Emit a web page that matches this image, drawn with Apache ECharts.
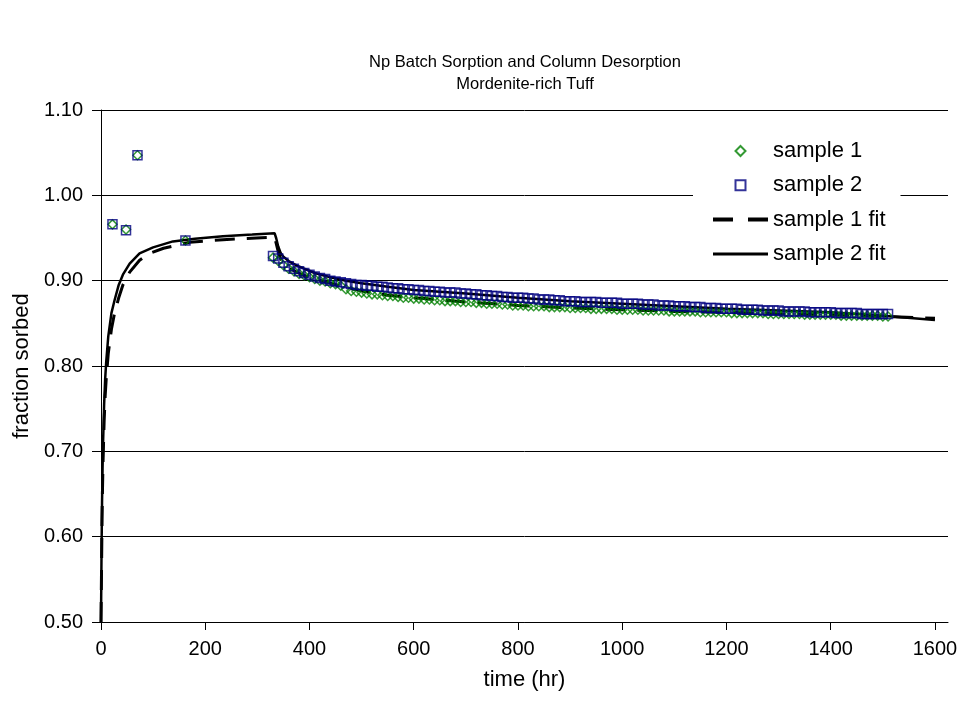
<!DOCTYPE html>
<html>
<head>
<meta charset="utf-8">
<script src="https://cdn.jsdelivr.net/npm/echarts@6/dist/echarts.min.js"></script>
<style>html,body{margin:0;padding:0;background:#fff;}#c{width:977px;height:704px;}</style>
</head>
<body>
<div id="c"></div>
<script>
var titleLines = ['Np Batch Sorption and Column Desorption', 'Mordenite-rich Tuff'];
var xName = 'time (hr)';
var yName = 'fraction sorbed';
var seriesNames = ['sample 1', 'sample 2', 'sample 1 fit', 'sample 2 fit'];
var xTicks = [0, 200, 400, 600, 800, 1000, 1200, 1400, 1600];

var batchTime = [22, 48, 70, 162];
var s1Batch = [0.966, 0.960, 1.047, 0.947];
var s2Batch = [0.966, 0.959, 1.047, 0.947];

var colTime = [330,340,350,360,370,380,390,400,410,420,430,440,450,460,470,480,490,500,510,520,530,540,550,560,570,580,590,600,610,620,630,640,650,660,670,680,690,700,710,720,730,740,750,760,770,780,790,800,810,820,830,840,850,860,870,880,890,900,910,920,930,940,950,960,970,980,990,1000,1010,1020,1030,1040,1050,1060,1070,1080,1090,1100,1110,1120,1130,1140,1150,1160,1170,1180,1190,1200,1210,1220,1230,1240,1250,1260,1270,1280,1290,1300,1310,1320,1330,1340,1350,1360,1370,1380,1390,1400,1410,1420,1430,1440,1450,1460,1470,1480,1490,1500,1510];

var s1Col = [0.927,0.923,0.918,0.914,0.911,0.908,0.906,0.904,0.902,0.900,0.899,0.897,0.896,0.894,0.890,0.888,0.887,0.886,0.885,0.884,0.884,0.883,0.882,0.882,0.881,0.880,0.880,0.879,0.879,0.878,0.878,0.877,0.877,0.876,0.876,0.876,0.875,0.875,0.875,0.874,0.874,0.873,0.873,0.873,0.872,0.872,0.871,0.871,0.871,0.870,0.870,0.870,0.870,0.869,0.869,0.869,0.869,0.868,0.868,0.868,0.868,0.867,0.867,0.867,0.867,0.867,0.866,0.866,0.866,0.866,0.866,0.865,0.865,0.865,0.865,0.865,0.864,0.864,0.864,0.864,0.864,0.864,0.863,0.863,0.863,0.863,0.863,0.863,0.862,0.862,0.862,0.862,0.862,0.862,0.862,0.861,0.861,0.861,0.861,0.861,0.861,0.861,0.860,0.860,0.860,0.860,0.860,0.860,0.860,0.859,0.859,0.859,0.859,0.859,0.859,0.859,0.859,0.858,0.858];

var s2Col = [0.929,0.926,0.921,0.917,0.914,0.911,0.909,0.907,0.905,0.903,0.902,0.900,0.899,0.898,0.897,0.896,0.895,0.895,0.894,0.894,0.893,0.893,0.892,0.891,0.891,0.890,0.890,0.889,0.889,0.888,0.888,0.887,0.887,0.886,0.886,0.886,0.885,0.885,0.884,0.884,0.883,0.883,0.882,0.882,0.881,0.881,0.880,0.880,0.880,0.879,0.879,0.878,0.878,0.878,0.877,0.877,0.876,0.876,0.876,0.875,0.875,0.875,0.875,0.874,0.874,0.874,0.874,0.873,0.873,0.873,0.873,0.872,0.872,0.872,0.871,0.871,0.871,0.870,0.870,0.870,0.869,0.869,0.869,0.868,0.868,0.868,0.867,0.867,0.867,0.867,0.866,0.866,0.866,0.866,0.865,0.865,0.865,0.865,0.864,0.864,0.864,0.864,0.864,0.863,0.863,0.863,0.863,0.863,0.862,0.862,0.862,0.862,0.862,0.861,0.861,0.861,0.861,0.861,0.861];

var fit1Time = [0,1,2,3,4,6,8,10,14,20,26,34,42,55,74,93,120,170,234,298,333,336,340,345,350,360,375,390,410,440,470,500,550,600,700,800,900,1000,1100,1200,1300,1400,1500,1600];
var fit1 = [0.50,0.56,0.62,0.66,0.69,0.735,0.765,0.785,0.815,0.843,0.862,0.880,0.895,0.910,0.924,0.932,0.938,0.945,0.948,0.950,0.951,0.944,0.934,0.925,0.920,0.915,0.910,0.906,0.902,0.897,0.892,0.888,0.883,0.880,0.875,0.871,0.868,0.866,0.864,0.863,0.861,0.860,0.858,0.856];

var fit2Time = [0,1,2,3,4,6,8,10,14,20,26,34,42,55,74,100,138,180,234,290,333,336,340,345,350,360,375,390,410,440,470,500,550,600,700,800,900,1000,1100,1200,1300,1400,1500,1600];
var fit2 = [0.50,0.58,0.64,0.68,0.71,0.755,0.785,0.805,0.835,0.862,0.877,0.895,0.907,0.920,0.932,0.939,0.946,0.949,0.952,0.954,0.9556,0.950,0.940,0.932,0.928,0.923,0.918,0.914,0.909,0.904,0.900,0.897,0.893,0.889,0.885,0.880,0.876,0.873,0.870,0.867,0.865,0.863,0.859,0.854];

function pairs(t, v) { return t.map(function (x, i) { return [x, v[i]]; }); }

var FONT = 'Liberation Sans, Arial, sans-serif';
var chart = echarts.init(document.getElementById('c'), null, {renderer: 'canvas'});
chart.setOption({
  animation: false,
  backgroundColor: '#fff',
  graphic: [
    {type: 'text', x: 525, y: 62, style: {text: titleLines[0], fontFamily: FONT, fontSize: 16.5, fill: '#000', textAlign: 'center', textVerticalAlign: 'middle'}},
    {type: 'text', x: 525, y: 84, style: {text: titleLines[1], fontFamily: FONT, fontSize: 16.5, fill: '#000', textAlign: 'center', textVerticalAlign: 'middle'}}
  ],
  grid: {left: 101, right: 29, top: 110, bottom: 82, containLabel: false},
  legend: {
    orient: 'vertical',
    left: 693, top: 130,
    padding: [10, 15, 10, 18],
    backgroundColor: '#fff',
    itemWidth: 55, itemHeight: 10, itemGap: 12.3,
    symbolKeepAspect: true,
    textStyle: {fontFamily: FONT, fontSize: 22, color: '#000'},
    data: [
      {name: seriesNames[0], icon: 'path://M5,0 L10,5 L5,10 L0,5 Z'},
      {name: seriesNames[1], icon: 'path://M0,0 L10,0 L10,10 L0,10 Z'},
      {name: seriesNames[2], itemStyle: {opacity: 0}, lineStyle: {width: 4, type: [20, 15]}},
      {name: seriesNames[3], itemStyle: {opacity: 0}, lineStyle: {width: 3}}
    ]
  },
  xAxis: {
    type: 'value', min: 0, max: 1625, interval: 200,
    name: xName, nameLocation: 'middle', nameGap: 47,
    nameTextStyle: {fontFamily: FONT, fontSize: 22, color: '#000'},
    axisLine: {lineStyle: {color: '#000', width: 1}},
    axisTick: {show: true, length: 8, lineStyle: {color: '#000'}, customValues: xTicks},
    axisLabel: {fontFamily: FONT, fontSize: 20, color: '#000', margin: 17, customValues: xTicks,
      formatter: function (v) { return String(v); }},
    splitLine: {show: false}
  },
  yAxis: {
    type: 'value', min: 0.5, max: 1.1, interval: 0.1,
    name: yName, nameLocation: 'middle', nameGap: 65,
    nameTextStyle: {fontFamily: FONT, fontSize: 22, color: '#000'},
    axisLine: {show: true, lineStyle: {color: '#000', width: 1}},
    axisTick: {show: true, length: 9, lineStyle: {color: '#000'}},
    axisLabel: {fontFamily: FONT, fontSize: 20, color: '#000', margin: 18, formatter: function (v) { return v.toFixed(2); }},
    splitLine: {show: true, lineStyle: {color: '#000', width: 1}}
  },
  series: [
    {name: seriesNames[2], type: 'line', data: pairs(fit1Time, fit1), showSymbol: false, symbol: 'none', z: 2,
     lineStyle: {color: '#000', width: 3, type: [20, 12]}, itemStyle: {color: '#000'}},
    {name: seriesNames[3], type: 'line', data: pairs(fit2Time, fit2), showSymbol: false, symbol: 'none', z: 2,
     lineStyle: {color: '#000', width: 2.5, type: 'solid'}, itemStyle: {color: '#000'}},
    {name: seriesNames[0], type: 'scatter', z: 3, symbol: 'diamond', symbolSize: 9,
     data: pairs(batchTime, s1Batch).concat(pairs(colTime, s1Col)),
     itemStyle: {color: 'rgba(0,0,0,0)', borderColor: '#008000', borderWidth: 1.5}},
    {name: seriesNames[1], type: 'scatter', z: 4, symbol: 'rect', symbolSize: 9,
     data: pairs(batchTime, s2Batch).concat(pairs(colTime, s2Col)),
     itemStyle: {color: 'rgba(0,0,0,0)', borderColor: '#000080', borderWidth: 1.5}}
  ]
});
</script>
</body>
</html>
